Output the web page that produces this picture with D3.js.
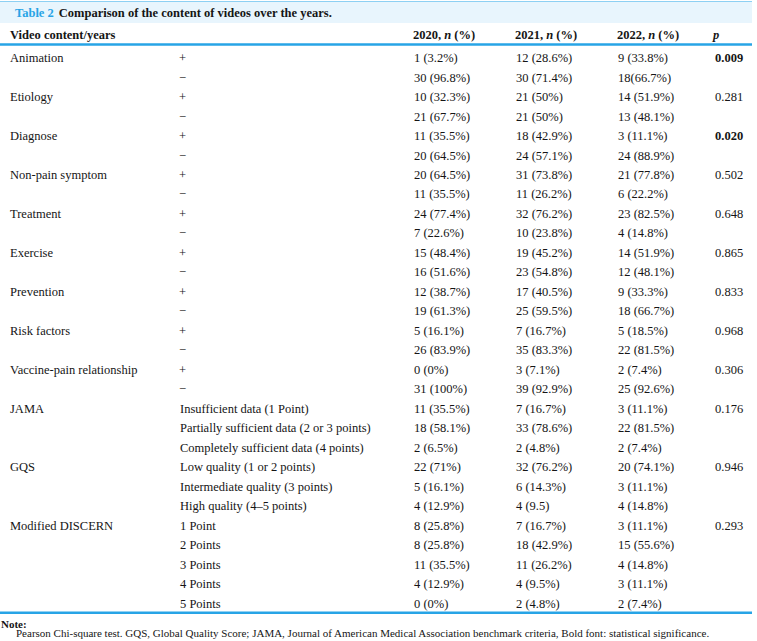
<!DOCTYPE html>
<html>
<head>
<meta charset="utf-8">
<script src="https://cdn.jsdelivr.net/npm/d3@7/dist/d3.min.js"></script>
<style>
  html, body { margin: 0; padding: 0; background: #fff; }
  svg { display: block; }
  text { font-family: "Liberation Serif", "Times New Roman", serif; fill: #151515; }
</style>
</head>
<body>
<svg id="chart" width="757" height="641"></svg>
<script>
// ---- data ----
const titleLabel = "Table 2";
const titleText = "Comparison of the content of videos over the years.";
const headerFirst = "Video content/years";
const yearHeaders = ["2020", "2021", "2022"];

const rowGroups = [
  "Animation", "", "Etiology", "", "Diagnose", "", "Non-pain symptom", "",
  "Treatment", "", "Exercise", "", "Prevention", "", "Risk factors", "",
  "Vaccine-pain relationship", "", "JAMA", "", "", "GQS", "", "",
  "Modified DISCERN", "", "", "", ""
];
const subLabels = [
  "+", "\u2212", "+", "\u2212", "+", "\u2212", "+", "\u2212", "+", "\u2212",
  "+", "\u2212", "+", "\u2212", "+", "\u2212", "+", "\u2212",
  "Insufficient data (1 Point)", "Partially sufficient data (2 or 3 points)", "Completely sufficient data (4 points)",
  "Low quality (1 or 2 points)", "Intermediate quality (3 points)", "High quality (4\u20135 points)",
  "1 Point", "2 Points", "3 Points", "4 Points", "5 Points"
];
const values2020 = [
  "1 (3.2%)", "30 (96.8%)", "10 (32.3%)", "21 (67.7%)", "11 (35.5%)", "20 (64.5%)",
  "20 (64.5%)", "11 (35.5%)", "24 (77.4%)", "7 (22.6%)", "15 (48.4%)", "16 (51.6%)",
  "12 (38.7%)", "19 (61.3%)", "5 (16.1%)", "26 (83.9%)", "0 (0%)", "31 (100%)",
  "11 (35.5%)", "18 (58.1%)", "2 (6.5%)", "22 (71%)", "5 (16.1%)", "4 (12.9%)",
  "8 (25.8%)", "8 (25.8%)", "11 (35.5%)", "4 (12.9%)", "0 (0%)"
];
const values2021 = [
  "12 (28.6%)", "30 (71.4%)", "21 (50%)", "21 (50%)", "18 (42.9%)", "24 (57.1%)",
  "31 (73.8%)", "11 (26.2%)", "32 (76.2%)", "10 (23.8%)", "19 (45.2%)", "23 (54.8%)",
  "17 (40.5%)", "25 (59.5%)", "7 (16.7%)", "35 (83.3%)", "3 (7.1%)", "39 (92.9%)",
  "7 (16.7%)", "33 (78.6%)", "2 (4.8%)", "32 (76.2%)", "6 (14.3%)", "4 (9.5)",
  "7 (16.7%)", "18 (42.9%)", "11 (26.2%)", "4 (9.5%)", "2 (4.8%)"
];
const values2022 = [
  "9 (33.8%)", "18(66.7%)", "14 (51.9%)", "13 (48.1%)", "3 (11.1%)", "24 (88.9%)",
  "21 (77.8%)", "6 (22.2%)", "23 (82.5%)", "4 (14.8%)", "14 (51.9%)", "12 (48.1%)",
  "9 (33.3%)", "18 (66.7%)", "5 (18.5%)", "22 (81.5%)", "2 (7.4%)", "25 (92.6%)",
  "3 (11.1%)", "22 (81.5%)", "2 (7.4%)", "20 (74.1%)", "3 (11.1%)", "4 (14.8%)",
  "3 (11.1%)", "15 (55.6%)", "4 (14.8%)", "3 (11.1%)", "2 (7.4%)"
];
const pValues = [
  "0.009", "", "0.281", "", "0.020", "", "0.502", "", "0.648", "", "0.865", "",
  "0.833", "", "0.968", "", "0.306", "", "0.176", "", "", "0.946", "", "",
  "0.293", "", "", "", ""
];
const pSignificant = ["0.009", "0.020"];
const noteTitle = "Note:";
const noteText = "Pearson Chi-square test. GQS, Global Quality Score; JAMA, Journal of American Medical Association benchmark criteria, Bold font: statistical significance.";

// ---- layout ----
const W = 757, H = 641;
const svg = d3.select("#chart");
const blue = "#27a4e6";
const fs = 12.5;

const colX = d3.scaleOrdinal()
  .domain(["group", "sub", "y2020", "y2021", "y2022", "p"])
  .range([10, 180, 414, 516, 618, 715]);

const rowIdx = d3.range(subLabels.length);
const y = d3.scaleBand().domain(rowIdx).range([48, 613]);

// title band
svg.append("rect").attr("x", 0).attr("y", 1.5).attr("width", 752).attr("height", 21.5).attr("fill", "#e8f5fd");
svg.append("line").attr("x1", 0).attr("x2", 752).attr("y1", 1.5).attr("y2", 1.5)
  .attr("stroke", "#8dd0f3").attr("stroke-width", 1);

const title = svg.append("text").attr("x", 15).attr("y", 13).attr("dy", "0.35em")
  .attr("font-size", 12.5).attr("font-weight", "bold");
title.append("tspan").attr("fill", blue).style("fill", blue).text(titleLabel);
title.append("tspan").attr("dx", 5).text(titleText);

// header
const hy = 34.5;
svg.append("text").attr("x", colX("group")).attr("y", hy).attr("dy", "0.35em")
  .attr("font-size", fs).attr("font-weight", "bold").text(headerFirst);
["y2020", "y2021", "y2022"].forEach((k, i) => {
  const t = svg.append("text").attr("x", colX(k) - 1).attr("y", hy).attr("dy", "0.35em")
    .attr("font-size", fs).attr("font-weight", "bold");
  t.append("tspan").text(yearHeaders[i] + ", ");
  t.append("tspan").attr("font-style", "italic").text("n");
  t.append("tspan").text(" (%)");
});
svg.append("text").attr("x", colX("p") - 2).attr("y", hy).attr("dy", "0.35em")
  .attr("font-size", fs).attr("font-weight", "bold").attr("font-style", "italic").text("p");

svg.append("line").attr("x1", 0).attr("x2", 752).attr("y1", 44.5).attr("y2", 44.5)
  .attr("stroke", blue).attr("stroke-width", 2.5);

// body rows
const rows = svg.append("g").selectAll("g").data(rowIdx).join("g")
  .attr("transform", i => `translate(0,${y(i) + y.bandwidth() / 2})`);

const cell = (sel, key, acc, extra) => sel.append("text")
  .attr("x", colX(key)).attr("dy", "0.35em").attr("font-size", fs)
  .text(acc).call(s => extra && extra(s));

cell(rows, "group", i => rowGroups[i]);
cell(rows, "sub", i => subLabels[i], s => s.attr("x", i => (subLabels[i].length === 1 ? colX("sub") - 1 : colX("sub"))));
cell(rows, "y2020", i => values2020[i]);
cell(rows, "y2021", i => values2021[i]);
cell(rows, "y2022", i => values2022[i]);
cell(rows, "p", i => pValues[i], s => s.attr("font-weight", i => pSignificant.includes(pValues[i]) ? "bold" : "normal"));

svg.append("line").attr("x1", 0).attr("x2", 752).attr("y1", 612.8).attr("y2", 612.8)
  .attr("stroke", blue).attr("stroke-width", 2.5);

// note
svg.append("text").attr("x", 1).attr("y", 624).attr("dy", "0.35em")
  .attr("font-size", 11).attr("font-weight", "bold").text(noteTitle);
svg.append("text").attr("x", 16).attr("y", 633.5).attr("dy", "0.35em")
  .attr("font-size", 11).text(noteText);
</script>
</body>
</html>
